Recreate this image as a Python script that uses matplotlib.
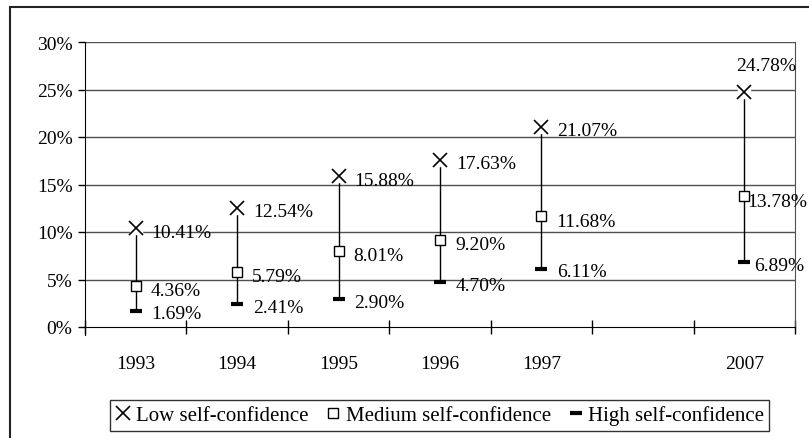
import matplotlib
matplotlib.use("Agg")
import matplotlib.pyplot as plt
from matplotlib.patches import Rectangle
from matplotlib.lines import Line2D

plt.rcParams['font.family'] = ['Liberation Serif', 'DejaVu Serif']

years = ['1993', '1994', '1995', '1996', '1997', '', '2007']
xpos = [0, 1, 2, 3, 4, 6]
low = [10.41, 12.54, 15.88, 17.63, 21.07, 24.78]
medium = [4.36, 5.79, 8.01, 9.20, 11.68, 13.78]
high = [1.69, 2.41, 2.90, 4.70, 6.11, 6.89]
series_names = ['Low self-confidence', 'Medium self-confidence', 'High self-confidence']

W, H = 809, 439
fig = plt.figure(figsize=(W / 100, H / 100), dpi=100)
ax = fig.add_axes([85 / W, (H - 328) / H, 710 / W, 285 / H])

grid_col = '#505050'
for v in range(5, 31, 5):
    ax.axhline(v / 100, color=grid_col, lw=1, zorder=0)

lo = [v / 100 for v in low]
me = [v / 100 for v in medium]
hi = [v / 100 for v in high]

# high-low lines
ax.vlines(xpos, hi, lo, color='black', lw=1, zorder=2)
# white patch behind X markers, like excel marker background
ax.plot(xpos, lo, ls='none', marker='s', ms=9, mfc='white', mec='white', zorder=3)
ax.plot(xpos, lo, ls='none', marker='x', ms=9.5, mew=1.2, color='black', zorder=4)
ax.plot(xpos, me, ls='none', marker='s', ms=7.5, mfc='white', mec='black', mew=1, zorder=4)
ax.plot(xpos, hi, ls='none', marker='_', ms=8, mew=3, color='black', zorder=4)

fs = 14
k = 0.72  # px -> pt
for i, x in enumerate(xpos):
    last = i == len(xpos) - 1
    if last:
        ax.annotate(f'{low[i]:.2f}%', (x, lo[i]), xytext=(22 * k, 26 * k),
                    textcoords='offset points', ha='center', va='center', fontsize=fs)
        ax.annotate(f'{medium[i]:.2f}%', (x, me[i]), xytext=(3 * k, -5 * k),
                    textcoords='offset points', ha='left', va='center', fontsize=fs)
        ax.annotate(f'{high[i]:.2f}%', (x, hi[i]), xytext=(10 * k, -4 * k),
                    textcoords='offset points', ha='left', va='center', fontsize=fs)
    else:
        ax.annotate(f'{low[i]:.2f}%', (x, lo[i]), xytext=(16 * k, -4 * k),
                    textcoords='offset points', ha='left', va='center', fontsize=fs)
        ax.annotate(f'{medium[i]:.2f}%', (x, me[i]), xytext=(15 * k, -5 * k),
                    textcoords='offset points', ha='left', va='center', fontsize=fs)
        ax.annotate(f'{high[i]:.2f}%', (x, hi[i]), xytext=(16 * k, -3 * k),
                    textcoords='offset points', ha='left', va='center', fontsize=fs)

ax.set_xlim(-0.5, len(years) - 0.5)
ax.set_ylim(0, 0.30)
ax.set_yticks([v / 100 for v in range(0, 31, 5)])
ax.set_yticklabels([f'{v}%' for v in range(0, 31, 5)], fontsize=fs)
ax.tick_params(axis='y', direction='out', length=5, width=1, pad=4)

ax.set_xticks([i - 0.5 for i in range(len(years) + 1)])
ax.set_xticklabels([])
ax.set_xticks(range(len(years)), minor=True)
ax.set_xticklabels(years, minor=True, fontsize=fs)
ax.tick_params(axis='x', which='major', direction='inout', length=10, width=1)
ax.tick_params(axis='x', which='minor', length=0, pad=20)

ax.spines['left'].set_color('black')
ax.spines['bottom'].set_color('black')
ax.spines['top'].set_visible(False)
ax.spines['right'].set_color(grid_col)
ax.spines['left'].set_bounds(-0.008, 0.30)

handles = [
    Line2D([], [], ls='none', marker='x', ms=9.5, mew=1.2, color='black'),
    Line2D([], [], ls='none', marker='s', ms=7, mfc='white', mec='black', mew=1),
    Line2D([], [], ls='none', marker='_', ms=8, mew=3, color='black'),
]
leg = fig.legend(handles, series_names, loc='center', bbox_to_anchor=(439.5 / W, 1 - 416.5 / H),
                 ncol=3, fontsize=15, frameon=True, fancybox=False, handlelength=0.8,
                 handletextpad=0.2, columnspacing=0.8, borderpad=0.25, borderaxespad=0)
leg.get_frame().set_edgecolor('black')
leg.get_frame().set_linewidth(1)

fig.add_artist(Rectangle((10 / W, -0.1), 1, 1.1 - 7.5 / H, transform=fig.transFigure,
                         fill=False, edgecolor='#222222', lw=1.5))

fig.savefig('out.png', dpi=100)
